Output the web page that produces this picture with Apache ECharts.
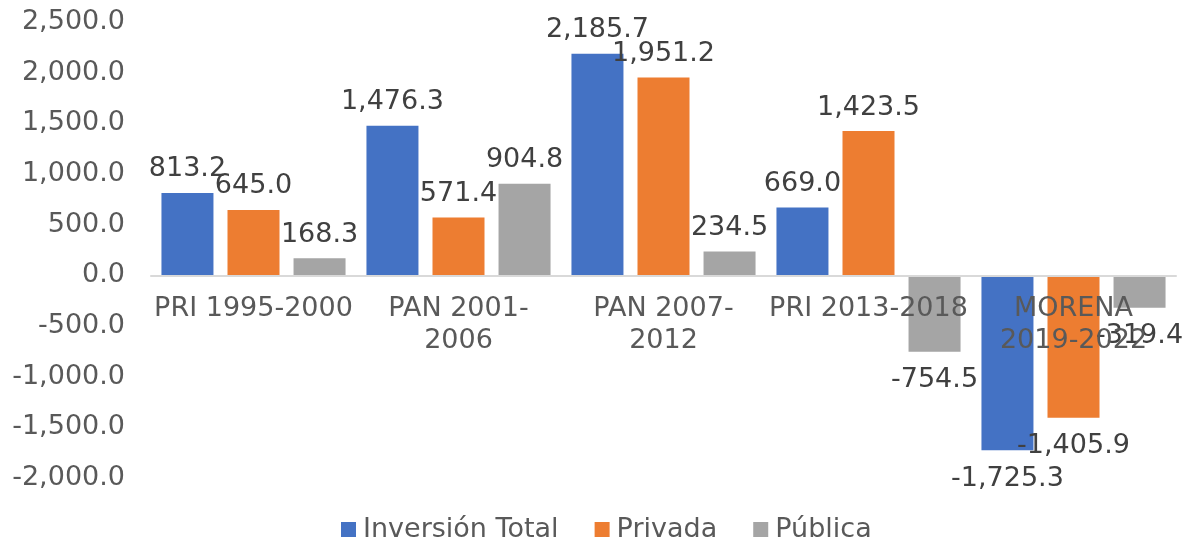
<!DOCTYPE html>
<html>
<head>
<meta charset="utf-8">
<title>Inversión</title>
<script src="https://cdn.jsdelivr.net/npm/echarts@6/dist/echarts.min.js"></script>
<style>
    html, body { margin: 0; padding: 0; background: #fff; }
    #chart_main { width: 1190px; height: 541px; }
</style>
</head>
<body>
<div id="chart_main"></div>
<script>
var categories = ['PRI 1995-2000', 'PAN 2001-\n2006', 'PAN 2007-\n2012', 'PRI 2013-2018', 'MORENA\n2019-2022'];
var seriesNames = ['Inversión Total', 'Privada', 'Pública'];
var totalValues = [813.2, 1476.3, 2185.7, 669.0, -1725.3];
var privadaValues = [645.0, 571.4, 1951.2, 1423.5, -1405.9];
var publicaValues = [168.3, 904.8, 234.5, -754.5, -319.4];
var colors = ['#4472C4', '#ED7D31', '#A5A5A5'];
var font = 'DejaVu Sans';
var fontSize = 27;

function fmt(v) {
    return Number(v).toLocaleString('en-US', { minimumFractionDigits: 1, maximumFractionDigits: 1 });
}

// labels go above positive bars, below negative ones
function toItems(values) {
    return values.map(function (v) {
        return {
            value: v,
            label: v < 0 ? { position: 'bottom', distance: 15 } : { position: 'top', distance: 10 }
        };
    });
}

function makeSeries(name, values, color) {
    return {
        name: name,
        type: 'bar',
        barWidth: 52,
        barGap: '27%',
        data: toItems(values),
        itemStyle: { color: color },
        label: {
            show: true,
            color: '#404040',
            fontSize: fontSize,
            fontFamily: font,
            formatter: function (p) { return fmt(p.value); }
        }
    };
}

var myChart = echarts.init(document.getElementById('chart_main'));
var option = {
    animation: false,
    textStyle: { fontFamily: font },
    grid: { left: 151, right: 14, top: 22, bottom: 63, outerBoundsMode: 'none', containLabel: false },
    legend: {
        bottom: -7,
        left: 336,
        icon: 'rect',
        itemWidth: 15,
        itemHeight: 15,
        itemGap: 36,
        textStyle: { color: '#595959', fontSize: fontSize, fontFamily: font, padding: [0, 0, 0, 2] },
        data: seriesNames
    },
    xAxis: {
        type: 'category',
        data: categories,
        offset: 0,
        z: 10,
        axisLine: { onZero: false, lineStyle: { color: '#d9d9d9', width: 2 } },
        axisTick: { show: false },
        axisLabel: {
            interval: 0,
            color: '#595959',
            fontSize: fontSize,
            lineHeight: 32,
            margin: 18,
            fontFamily: font
        }
    },
    yAxis: {
        type: 'value',
        min: -2000,
        max: 2500,
        interval: 500,
        axisLine: { show: false },
        axisTick: { show: false },
        splitLine: { show: false },
        axisLabel: {
            color: '#595959',
            fontSize: fontSize,
            margin: 26,
            fontFamily: font,
            formatter: fmt
        }
    },
    series: [
        makeSeries(seriesNames[0], totalValues, colors[0]),
        makeSeries(seriesNames[1], privadaValues, colors[1]),
        makeSeries(seriesNames[2], publicaValues, colors[2])
    ]
};
myChart.setOption(option);

// move the category axis (line + labels) up to the zero line
var zeroY = myChart.convertToPixel({ yAxisIndex: 0 }, 0);
var bottomY = myChart.convertToPixel({ yAxisIndex: 0 }, -2000);
myChart.setOption({ xAxis: { offset: -(bottomY - zeroY) } });
</script>
</body>
</html>
